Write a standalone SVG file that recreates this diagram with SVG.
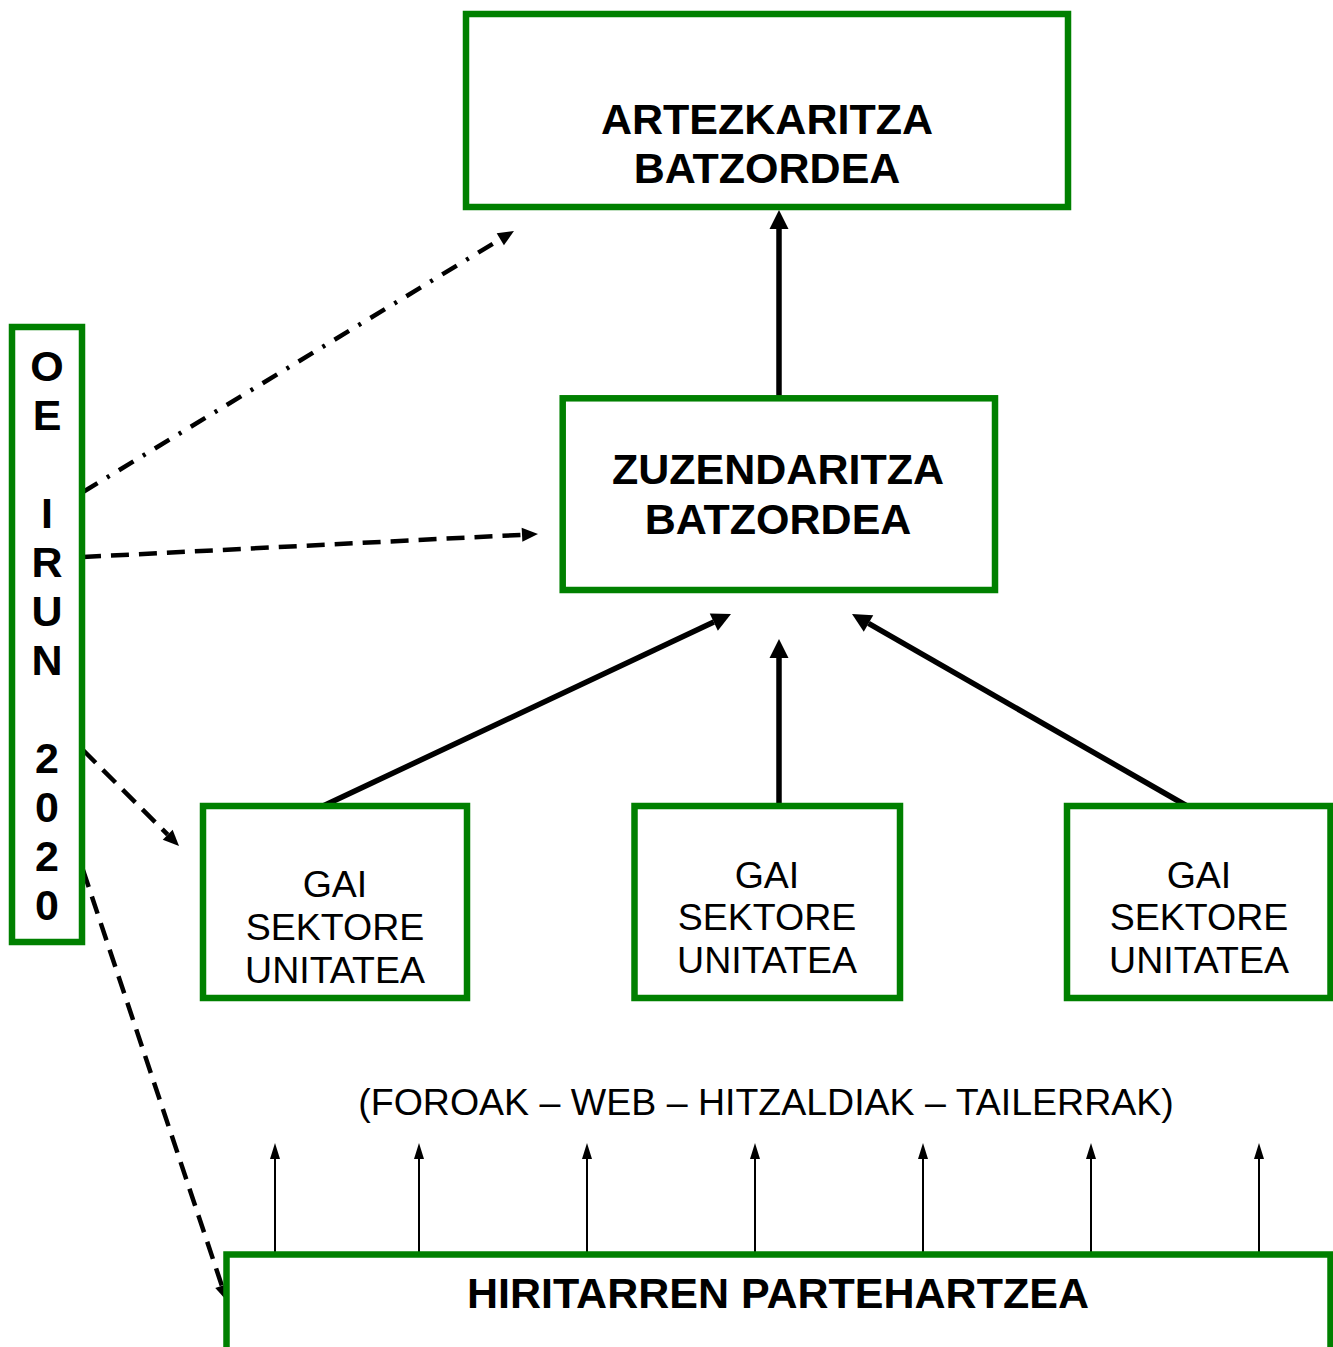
<svg xmlns="http://www.w3.org/2000/svg" width="1333" height="1347" viewBox="0 0 1333 1347">
<style>
.box{fill:#fff;stroke:#008000;stroke-width:6.5}
.b{font-family:"Liberation Sans",Arial,sans-serif;font-weight:bold;font-size:43px;text-anchor:middle;fill:#000}
.r{font-family:"Liberation Sans",Arial,sans-serif;font-size:37.5px;text-anchor:middle;fill:#000}
.thick{stroke:#000;stroke-width:5.5;fill:none}
.dash{stroke:#000;stroke-width:4.5;fill:none;stroke-dasharray:18 10}
.dashdot{stroke:#000;stroke-width:4.5;fill:none;stroke-dasharray:17 11 3 11}
.thin{stroke:#000;stroke-width:2;fill:none}
</style>
<defs>
<marker id="ah" markerUnits="userSpaceOnUse" markerWidth="19" markerHeight="19" refX="0" refY="9.5" orient="auto" overflow="visible"><path d="M0,0 L19,9.5 L0,19 z" fill="#000"/></marker>
<marker id="ad" markerUnits="userSpaceOnUse" markerWidth="16" markerHeight="14" refX="0" refY="7" orient="auto" overflow="visible"><path d="M0,0 L16,7 L0,14 z" fill="#000"/></marker>
<marker id="as" markerUnits="userSpaceOnUse" markerWidth="16" markerHeight="10" refX="0" refY="5" orient="auto" overflow="visible"><path d="M0,0 L16,5 L0,10 z" fill="#000"/></marker>
</defs>
<rect width="1333" height="1347" fill="#fff"/>
<g id="connectors">
<line class="thick" x1="779" y1="398" x2="779" y2="229" marker-end="url(#ah)"/>
<line class="thick" x1="323" y1="806" x2="713.8" y2="622.1" marker-end="url(#ah)"/>
<line class="thick" x1="779" y1="806" x2="779" y2="658" marker-end="url(#ah)"/>
<line class="thick" x1="1187" y1="806" x2="868.5" y2="623.4" marker-end="url(#ah)"/>
<line class="dashdot" x1="83" y1="492" x2="500.3" y2="239.3" marker-end="url(#ad)"/>
<line class="dash" x1="83" y1="557" x2="522" y2="534.8" marker-end="url(#ad)"/>
<line class="dash" x1="83" y1="750" x2="167.7" y2="834.7" marker-end="url(#ad)"/>
<line class="dash" x1="83" y1="870" x2="221.9" y2="1285.8" marker-end="url(#ad)"/>
<line class="thin" x1="275" y1="1252" x2="275" y2="1159" marker-end="url(#as)"/>
<line class="thin" x1="419" y1="1252" x2="419" y2="1159" marker-end="url(#as)"/>
<line class="thin" x1="587" y1="1252" x2="587" y2="1159" marker-end="url(#as)"/>
<line class="thin" x1="755" y1="1252" x2="755" y2="1159" marker-end="url(#as)"/>
<line class="thin" x1="923" y1="1252" x2="923" y2="1159" marker-end="url(#as)"/>
<line class="thin" x1="1091" y1="1252" x2="1091" y2="1159" marker-end="url(#as)"/>
<line class="thin" x1="1259" y1="1252" x2="1259" y2="1159" marker-end="url(#as)"/>
</g>
<g id="artezkaritza">
<rect class="box" x="466" y="14" width="602" height="193"/>
<text class="b" x="767" y="134">ARTEZKARITZA</text>
<text class="b" x="767" y="183">BATZORDEA</text>
</g>
<g id="zuzendaritza">
<rect class="box" x="562.7" y="398.3" width="432.3" height="191.7"/>
<text class="b" x="778" y="484">ZUZENDARITZA</text>
<text class="b" x="778" y="534">BATZORDEA</text>
</g>
<g id="oe-irun">
<rect class="box" x="12" y="327" width="70" height="615"/>
<text class="b"><tspan x="47" y="381">O</tspan><tspan x="47" y="430">E</tspan><tspan x="47" y="528">I</tspan><tspan x="47" y="577">R</tspan><tspan x="47" y="626">U</tspan><tspan x="47" y="675">N</tspan><tspan x="47" y="773">2</tspan><tspan x="47" y="822">0</tspan><tspan x="47" y="871">2</tspan><tspan x="47" y="920">0</tspan></text>
</g>
<g id="gai1">
<rect class="box" x="203" y="806" width="264" height="192"/>
<text class="r" x="335" y="897">GAI</text>
<text class="r" x="335" y="940">SEKTORE</text>
<text class="r" x="335" y="983">UNITATEA</text>
</g>
<g id="gai2">
<rect class="box" x="634.5" y="806" width="265.5" height="192"/>
<text class="r" x="767" y="888">GAI</text>
<text class="r" x="767" y="930">SEKTORE</text>
<text class="r" x="767" y="973">UNITATEA</text>
</g>
<g id="gai3">
<rect class="box" x="1067" y="806" width="263.5" height="192"/>
<text class="r" x="1199" y="888">GAI</text>
<text class="r" x="1199" y="930">SEKTORE</text>
<text class="r" x="1199" y="973">UNITATEA</text>
</g>
<g id="foroak">
<text class="r" x="766" y="1115">(FOROAK – WEB – HITZALDIAK – TAILERRAK)</text>
</g>
<g id="hiritarren">
<rect class="box" x="226.5" y="1254.5" width="1104" height="200"/>
<text class="b" x="778" y="1308">HIRITARREN PARTEHARTZEA</text>
</g>
</svg>
